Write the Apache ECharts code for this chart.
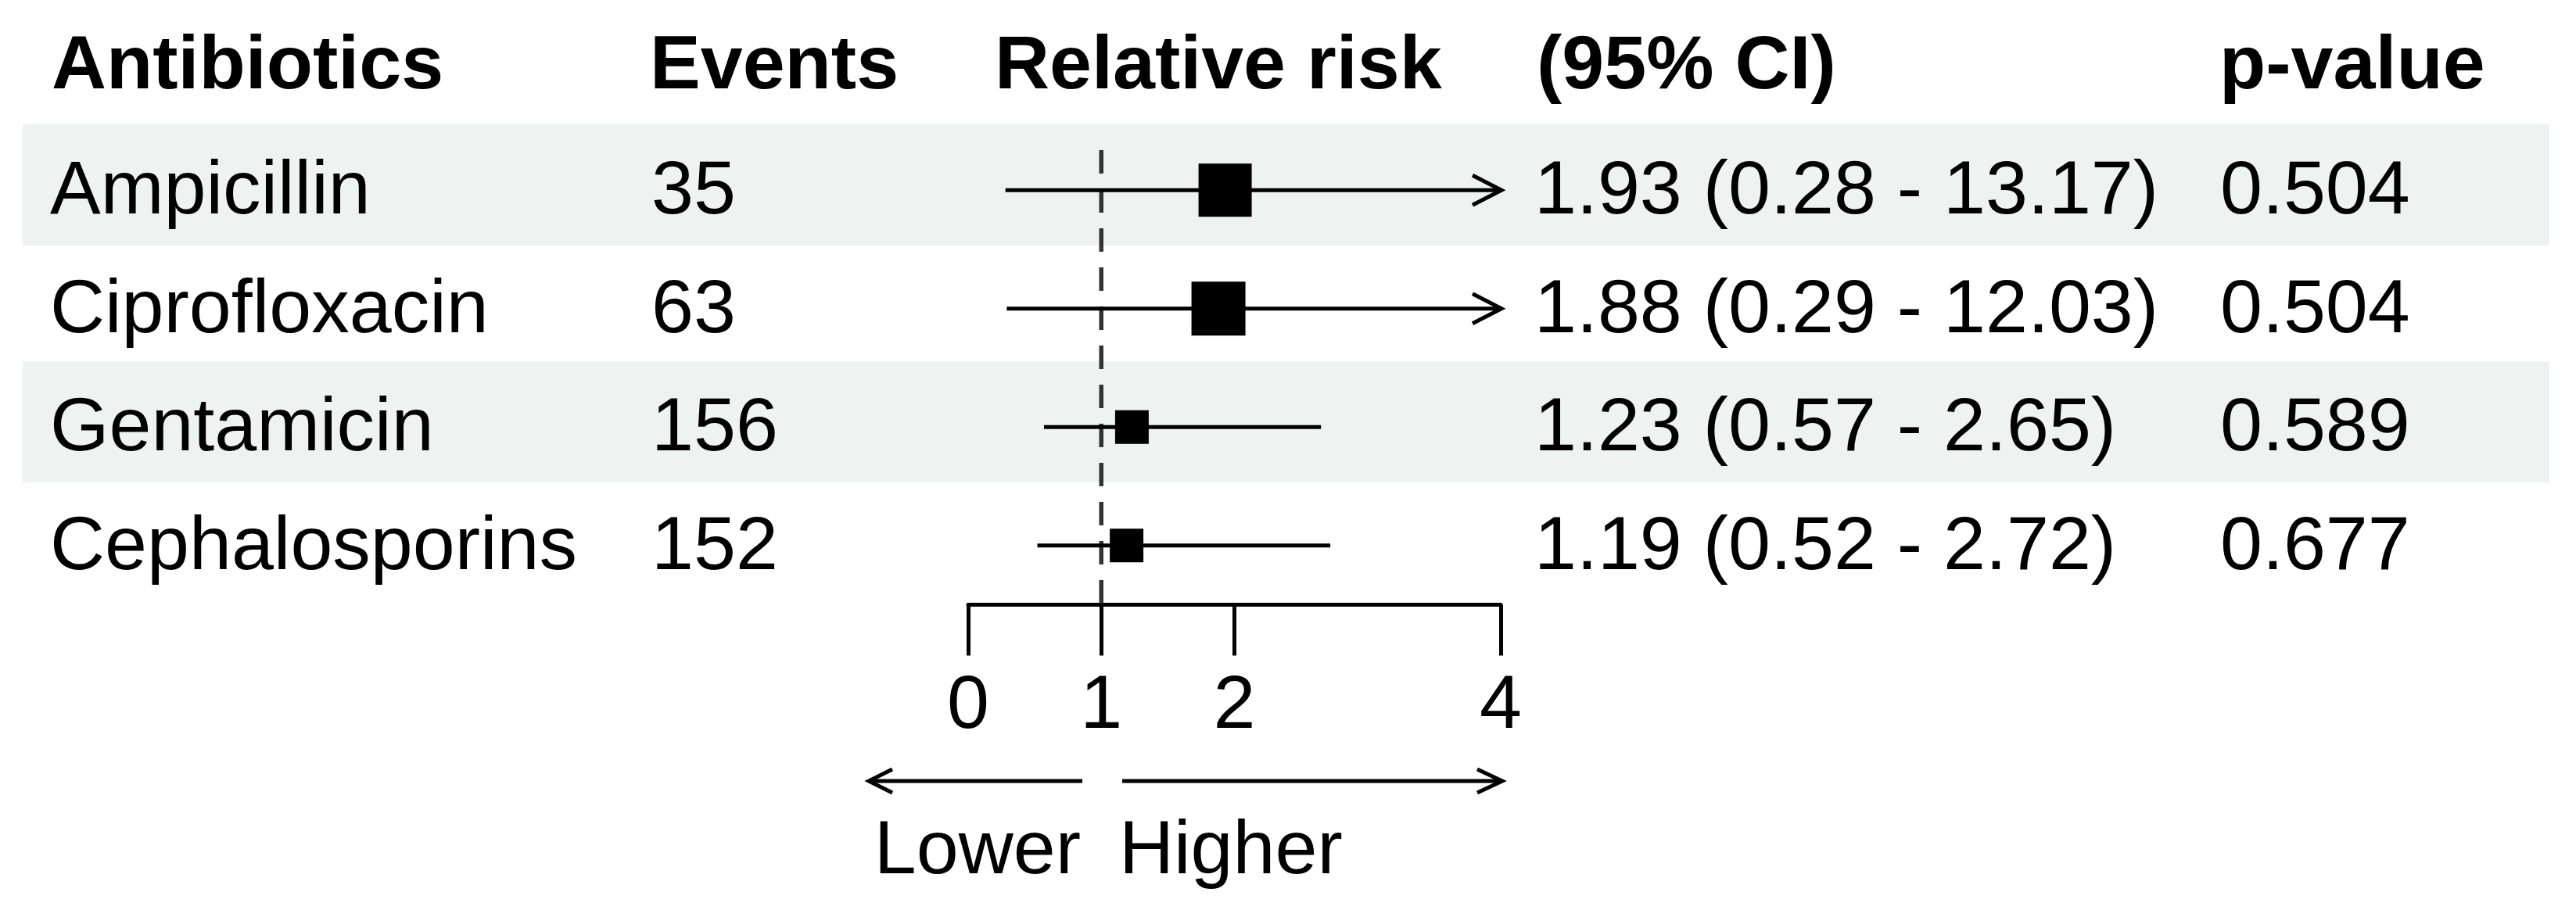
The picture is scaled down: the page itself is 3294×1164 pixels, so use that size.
<!DOCTYPE html>
<html>
<head>
<meta charset="utf-8">
<script src="https://cdn.jsdelivr.net/npm/echarts@6/dist/echarts.min.js"></script>
<style>
  html, body { margin: 0; padding: 0; background: #ffffff; }
  #chart { width: 3294px; height: 1164px; }
</style>
</head>
<body>
<div id="chart"></div>
<script>
// ---------------- data ----------------
const headers = ['Antibiotics', 'Events', 'Relative risk', '(95% CI)', 'p-value'];
const antibiotics = ['Ampicillin', 'Ciprofloxacin', 'Gentamicin', 'Cephalosporins'];
const events = [35, 63, 156, 152];
const relativeRisk = [1.93, 1.88, 1.23, 1.19];
const ciLow = [0.28, 0.29, 0.57, 0.52];
const ciHigh = [13.17, 12.03, 2.65, 2.72];
const pValues = ['0.504', '0.504', '0.589', '0.677'];
const xTicks = [0, 1, 2, 4];
const referenceValue = 1;
const directionLabels = ['Lower', 'Higher'];

// ---------------- style / layout ----------------
const FONT = '"Liberation Sans", Arial, Helvetica, sans-serif';
const FS = 97;
const GRID = { left: 1238, top: 167.5, width: 681, height: 606 };
const X_MIN = 0, X_MAX = 4;
const COLS = { name: 64, events: 833, rr: 1272, ci: 1962, p: 2839 };
const BOX_PX = [68, 69, 43, 43];
const BAND = { left: 29, right: 3260, above: 84, below: 71, color: '#eef2f0' };
const LINE_W = 5;

const fmt = v => v.toFixed(2);
const ciText = antibiotics.map((_, i) =>
  fmt(relativeRisk[i]) + ' (' + fmt(ciLow[i]) + ' - ' + fmt(ciHigh[i]) + ')');

const chart = echarts.init(document.getElementById('chart'), null, { renderer: 'canvas' });

const xPx = v => GRID.left + (v - X_MIN) / (X_MAX - X_MIN) * GRID.width;

function txt(text, x, y, opts) {
  opts = opts || {};
  return {
    type: 'text',
    x: x, y: y,
    style: {
      text: text,
      fontSize: FS,
      fontFamily: FONT,
      fontWeight: opts.bold ? 'bold' : 'normal',
      fill: '#000',
      align: opts.align || 'left',
      verticalAlign: 'middle',
      textAlign: opts.align || 'left',
      textVerticalAlign: 'middle'
    }
  };
}

const headerY = 86;
const arrowY = 999;
const dirTextY = 1090;

const graphics = [];
// headers
graphics.push(txt(headers[0], 66, headerY, { bold: true }));
graphics.push(txt(headers[1], 831, headerY, { bold: true }));
graphics.push(txt(headers[2], COLS.rr, headerY, { bold: true }));
graphics.push(txt(headers[3], COLS.ci + 3, headerY, { bold: true }));
graphics.push(txt(headers[4], COLS.p - 1, headerY, { bold: true }));
// direction arrows
const leftStart = 1111, leftEnd = 1384, rightStart = 1435, rightEnd = xPx(X_MAX) + 2;
graphics.push({ type: 'line', shape: { x1: leftStart, y1: arrowY, x2: leftEnd, y2: arrowY },
  style: { stroke: '#000', lineWidth: LINE_W } });
graphics.push({ type: 'polyline', shape: { points: [[leftStart + 30, arrowY - 15], [leftStart, arrowY], [leftStart + 30, arrowY + 15]] },
  style: { stroke: '#000', lineWidth: LINE_W, fill: null } });
graphics.push({ type: 'line', shape: { x1: rightStart, y1: arrowY, x2: rightEnd, y2: arrowY },
  style: { stroke: '#000', lineWidth: LINE_W } });
graphics.push({ type: 'polyline', shape: { points: [[rightEnd - 32, arrowY - 15], [rightEnd, arrowY], [rightEnd - 32, arrowY + 15]] },
  style: { stroke: '#000', lineWidth: LINE_W, fill: null } });
graphics.push(txt(directionLabels[0], 1382, dirTextY, { align: 'right' }));
graphics.push(txt(directionLabels[1], 1431, dirTextY));

const rowIdx = antibiotics.map((_, i) => i);
const bandRows = rowIdx.filter(i => i % 2 === 0);
const forestData = rowIdx.map(i => [relativeRisk[i], i, ciLow[i], ciHigh[i]]);

const option = {
  animation: false,
  backgroundColor: '#ffffff',
  grid: { left: GRID.left, top: GRID.top, width: GRID.width, height: GRID.height, containLabel: false },
  xAxis: {
    type: 'value',
    min: X_MIN, max: X_MAX,
    axisLine: { show: true, onZero: false, lineStyle: { color: '#000', width: LINE_W } },
    axisTick: { show: true, customValues: xTicks, length: 65, inside: false,
      lineStyle: { color: '#000', width: LINE_W } },
    axisLabel: { show: true, customValues: xTicks, margin: 82, fontSize: FS, fontFamily: FONT, color: '#000' },
    splitLine: { show: false }
  },
  yAxis: {
    type: 'value', min: -0.5, max: 3.5, inverse: true, show: false,
    splitLine: { show: false }
  },
  graphic: graphics,
  series: [
    {
      type: 'custom',
      name: 'bands',
      z: 0,
      silent: true,
      data: bandRows.map(i => [0, i]),
      renderItem: function (params, api) {
        const y = api.coord([0, api.value(1)])[1];
        return {
          type: 'rect',
          shape: { x: BAND.left, y: y - BAND.above, width: BAND.right - BAND.left, height: BAND.above + BAND.below },
          style: { fill: BAND.color }
        };
      }
    },
    {
      type: 'line',
      name: 'reference',
      z: 2,
      silent: true,
      symbol: 'none',
      data: [[referenceValue, -0.338], [referenceValue, 3.5]],
      lineStyle: { color: '#333333', width: 5.5, type: [30, 20] }
    },
    {
      type: 'custom',
      name: 'forest',
      z: 3,
      data: forestData,
      renderItem: function (params, api) {
        const i = api.value(1);
        const est = api.coord([api.value(0), i]);
        const lo = api.coord([Math.max(api.value(2), X_MIN), i]);
        const clipped = api.value(3) > X_MAX;
        const hi = api.coord([Math.min(api.value(3), X_MAX), i]);
        const y = est[1];
        const s = BOX_PX[i];
        const children = [
          { type: 'line', shape: { x1: lo[0], y1: y, x2: hi[0], y2: y },
            style: { stroke: '#000', lineWidth: LINE_W } },
          { type: 'rect', shape: { x: est[0] - s / 2, y: y - s / 2, width: s, height: s },
            style: { fill: '#000' } }
        ];
        if (clipped) {
          children.push({ type: 'polyline',
            shape: { points: [[hi[0] - 36, y - 19], [hi[0] + 1, y], [hi[0] - 36, y + 19]] },
            style: { stroke: '#000', lineWidth: LINE_W, fill: null } });
        }
        return { type: 'group', children: children };
      }
    },
    {
      type: 'custom',
      name: 'table',
      z: 4,
      silent: true,
      data: rowIdx.map(i => [0, i]),
      renderItem: function (params, api) {
        const i = api.value(1);
        const y = api.coord([0, i])[1] + 3;
        return {
          type: 'group',
          children: [
            txt(antibiotics[i], COLS.name, y),
            txt(String(events[i]), COLS.events, y),
            txt(ciText[i], COLS.ci, y),
            txt(pValues[i], COLS.p, y)
          ]
        };
      }
    }
  ]
};

chart.setOption(option);
</script>
</body>
</html>
